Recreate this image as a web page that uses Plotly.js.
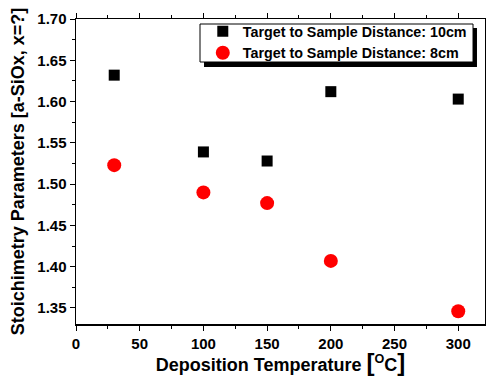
<!DOCTYPE html>
<html><head><meta charset="utf-8">
<script src="https://cdn.plot.ly/plotly-3.0.1.min.js"></script>
<style>body{margin:0;padding:0;background:#fff}#c{width:486px;height:376px}</style>
</head><body><div id="c"></div>
<script>
const temps = [30, 100, 150, 200, 300];
const dist10cm = [1.632, 1.539, 1.528, 1.612, 1.603];
const dist8cm = [1.523, 1.490, 1.477, 1.407, 1.346];
const seriesNames = ["Target to Sample Distance: 10cm", "Target to Sample Distance: 8cm"];

const F = "Liberation Sans, Arial, sans-serif";
const traces = [
  {x: temps, y: dist10cm, name: seriesNames[0], type: 'scatter', mode: 'markers',
   marker: {symbol: 'square', size: 11, color: '#000'}},
  {x: temps, y: dist8cm, name: seriesNames[1], type: 'scatter', mode: 'markers',
   marker: {symbol: 'circle', size: 14, color: '#ff0000'}}
];
const layout = {
  width: 486, height: 376,
  margin: {l: 76, r: 1, t: 19, b: 52},
  paper_bgcolor: '#fff', plot_bgcolor: '#fff',
  showlegend: true,
  font: {family: F, color: '#000'},
  xaxis: {
    range: [0, 321], tickvals: [0, 50, 100, 150, 200, 250, 300],
    ticks: 'outside', ticklen: 5, tickwidth: 1, tickcolor: '#000',
    showline: true, linecolor: '#000', linewidth: 1.5, mirror: 'ticks',
    showgrid: false, zeroline: false,
    minor: {tickvals: [25, 75, 125, 175, 225, 275], ticks: 'outside', ticklen: 3, tickcolor: '#000', showgrid: false},
    tickfont: {family: F, size: 15, weight: 'bold'},
    title: {text: 'Deposition Temperature <span style="font-size:24px">[</span><sup>O</sup>C<span style="font-size:24px">]</span>', font: {family: F, size: 18, weight: 'bold'}, standoff: 6}
  },
  yaxis: {
    range: [1.3306, 1.70], tickvals: [1.35, 1.40, 1.45, 1.50, 1.55, 1.60, 1.65, 1.70],
    ticktext: ['1.35','1.40','1.45','1.50','1.55','1.60','1.65','1.70'],
    ticks: 'outside', ticklen: 5, tickwidth: 1, tickcolor: '#000',
    showline: true, linecolor: '#000', linewidth: 1.5, mirror: 'ticks',
    showgrid: false, zeroline: false,
    minor: {tickvals: [1.375, 1.425, 1.475, 1.525, 1.575, 1.625, 1.675], ticks: 'outside', ticklen: 3, tickcolor: '#000', showgrid: false},
    tickfont: {family: F, size: 15, weight: 'bold'},
    title: {text: 'Stoichimetry Parameters [a-SiOx, x=?]', font: {family: F, size: 18, weight: 'bold'}, standoff: 8}
  },
  legend: {
    x: 0.31, y: 1.012, xanchor: 'left', yanchor: 'top',
    bgcolor: 'rgba(0,0,0,0)', borderwidth: 0,
    font: {family: F, size: 14.3, weight: 'bold'},
    tracegroupgap: 0, itemwidth: 30
  },
  shapes: [
    {type: 'rect', xref: 'paper', yref: 'paper', layer: 'above',
     x0: 0.313, x1: 0.9804, y0: 0.8426, y1: 0.9705,
     fillcolor: '#000', line: {width: 0}},
    {type: 'rect', xref: 'paper', yref: 'paper', layer: 'above',
     x0: 0.3032, x1: 0.9707, y0: 0.859, y1: 0.9836,
     fillcolor: '#fff', line: {width: 1, color: '#000'}}
  ]
};
Plotly.newPlot('c', traces, layout, {displayModeBar: false, staticPlot: true});
</script></body></html>
